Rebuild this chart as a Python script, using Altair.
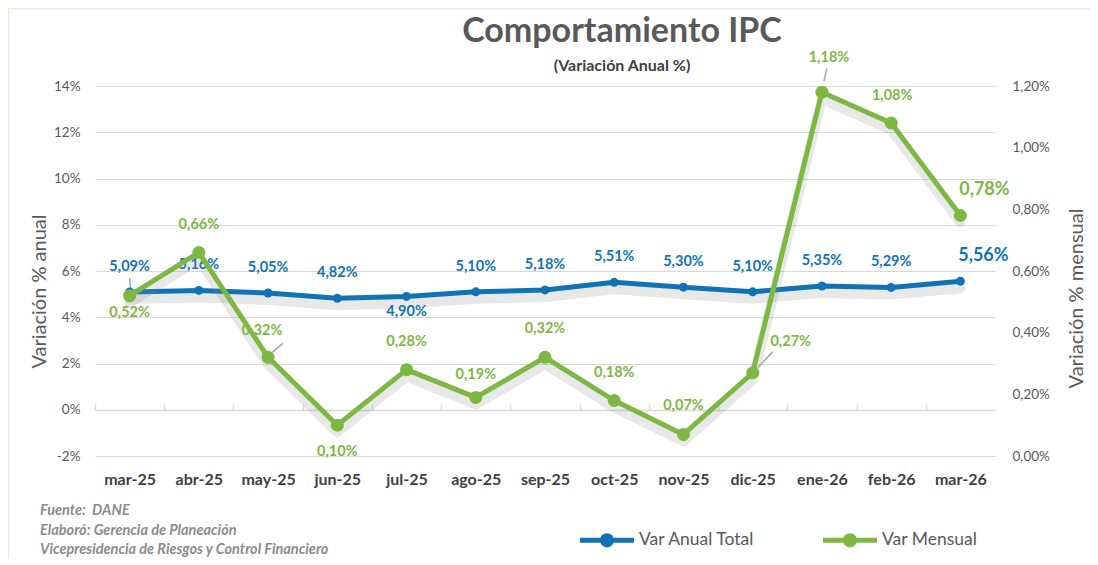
import altair as alt
import pandas as pd

months = ["mar-25", "abr-25", "may-25", "jun-25", "jul-25", "ago-25", "sep-25",
          "oct-25", "nov-25", "dic-25", "ene-26", "feb-26", "mar-26"]
anual = [5.09, 5.16, 5.05, 4.82, 4.90, 5.10, 5.18, 5.51, 5.30, 5.10, 5.35, 5.29, 5.56]
mensual = [0.52, 0.66, 0.32, 0.10, 0.28, 0.19, 0.32, 0.18, 0.07, 0.27, 1.18, 1.08, 0.78]
series_names = ["Var Anual Total", "Var Mensual"]
left_ticks = [-2, 0, 2, 4, 6, 8, 10, 12, 14]
right_ticks = [0.0, 0.2, 0.4, 0.6, 0.8, 1.0, 1.2]
title_text = "Comportamiento IPC"
subtitle_text = "(Variación Anual %)"
footer_text = ["Fuente:\u00a0 DANE", "Elaboró: Gerencia de Planeación",
               "Vicepresidencia de Riesgos y Control Financiero"]

BLUE = "#0F73B6"
GREEN = "#7DB843"
GRAY = "#595959"
FONT = "Lato"


def fmt(v):
    return f"{v:.2f}".replace(".", ",") + "%"


df_a = pd.DataFrame({"mes": months, "valor": anual, "serie": series_names[0],
                     "label": [fmt(v) for v in anual]})
df_m = pd.DataFrame({"mes": months, "valor": mensual, "serie": series_names[1],
                     "label": [fmt(v) for v in mensual]})

xscale = alt.Scale(domain=months, padding=0.5)
X = alt.X("mes:N", sort=months, scale=xscale,
          axis=alt.Axis(title=None, labelAngle=0, domain=False, ticks=False,
                        labelFontWeight="bold", labelFontSize=16, labelColor="#404040",
                        labelPadding=15, labelFont=FONT, grid=False))
X_top = alt.X("mes:N", sort=months, scale=xscale,
              axis=alt.Axis(title=None, orient="top", offset=-324, labels=False,
                            domain=True, domainColor="#D9D9D9", domainWidth=1.5,
                            ticks=True, tickColor="#D9D9D9", tickWidth=1.5, tickSize=6,
                            tickOffset=-34.6, grid=False))

ysc_a = alt.Scale(domain=[-2, 14], nice=False, zero=False)
ysc_m = alt.Scale(domain=[0, 1.2], nice=False, zero=False)

Y_a = alt.Y("valor:Q", scale=ysc_a,
            axis=alt.Axis(values=left_ticks, labelExpr="datum.value + '%'", grid=True,
                          gridColor="#D9D9D9", gridWidth=1.2, domain=False, ticks=False,
                          labelPadding=15, labelFontSize=13.5, labelColor=GRAY, labelFont=FONT,
                          title="Variación % anual", titleFontSize=20, titleFontWeight="normal",
                          titleColor=GRAY, titleFont=FONT, titlePadding=4, titleY=205))
Y_m = alt.Y("valor:Q", scale=ysc_m,
            axis=alt.Axis(orient="right", values=right_ticks,
                          labelExpr="replace(format(datum.value, '.2f'), '.', ',') + '%'",
                          grid=False, domain=False, ticks=False, labelPadding=17,
                          labelFontSize=13.5, labelColor=GRAY, labelFont=FONT,
                          title="Variación % mensual", titleFontSize=20,
                          titleFontWeight="normal", titleColor=GRAY, titleFont=FONT,
                          titleAngle=270, titlePadding=37, titleY=212))

color_scale = alt.Scale(domain=series_names, range=[BLUE, GREEN])
legend_path = ("M-1,-0.09L1,-0.09L1,0.09L-1,0.09Z"
               "M0.26,0A0.26,0.26,0,1,1,-0.26,0A0.26,0.26,0,1,1,0.26,0Z")
C = alt.Color("serie:N", scale=color_scale,
              legend=alt.Legend(title=None, orient="none", legendX=485, legendY=427,
                                direction="horizontal", symbolType=legend_path,
                                symbolSize=2916, symbolStrokeWidth=0, labelFontSize=17.5,
                                labelColor=GRAY, labelFont=FONT, columnPadding=68,
                                labelOffset=5, labelLimit=300))


def labels(df, Y, color, groups):
    out = []
    for mset, dx, dy, size in groups:
        out.append(
            alt.Chart(df).transform_filter(alt.FieldOneOfPredicate(field="mes", oneOf=mset))
            .mark_text(font=FONT, fontWeight="bold", fontSize=size, color=color,
                       dx=dx, dy=dy, baseline="middle", align="center")
            .encode(x=X, y=Y, text="label:N")
        )
    return out


def leaders(df, Y, groups):
    # short gray connector strokes between a data label and its point
    out = []
    for mset, cx, cy, length, ang in groups:
        out.append(
            alt.Chart(df).transform_filter(alt.FieldOneOfPredicate(field="mes", oneOf=mset))
            .mark_point(shape="stroke", color="#A6A6A6", strokeWidth=1.5, filled=False,
                        opacity=1, size=length * length, angle=ang,
                        xOffset=cx, yOffset=cy)
            .encode(x=X, y=Y)
        )
    return out


def shadow(df, Xc, Y):
    return alt.Chart(df).mark_line(color="#8A8A8A", opacity=0.2, strokeWidth=10,
                                   strokeCap="round", strokeJoin="round").encode(
        x=Xc, y=Y, yOffset=alt.value(7))


LS = 14.5
line_a = alt.Chart(df_a).mark_line(color=BLUE, strokeWidth=5, strokeCap="round",
                                   strokeJoin="round").encode(x=X, y=Y_a)
pts_a = alt.Chart(df_a).mark_point(filled=True, size=80, opacity=1).encode(
    x=X, y=Y_a, color=C)
lab_a = labels(df_a, Y_a, BLUE, [
    ([m for m in months if m not in ("jul-25", "mar-26")], 0, -25, LS),
    (["jul-25"], 0, 16, LS),
    (["mar-26"], 23, -25, 18),
])
lead_a = leaders(df_a, Y_a, [(["mar-25"], 0.5, -8.5, 11, 85)])

line_m = alt.Chart(df_m).mark_line(color=GREEN, strokeWidth=5, strokeCap="round",
                                   strokeJoin="round").encode(x=X_top, y=Y_m)
pts_m = alt.Chart(df_m).mark_point(filled=True, size=170, opacity=1).encode(
    x=X_top, y=Y_m, color=C)
lab_m = labels(df_m, Y_m, GREEN, [
    (["abr-25", "jul-25", "sep-25", "oct-25", "nov-25"], 0, -28, LS),
    (["may-25"], -6, -26, LS),
    (["ago-25"], 0, -22, LS),
    (["feb-26"], 1, -27, LS),
    (["ene-26"], 7, -34, LS),
    (["mar-25"], 0, 17, LS),
    (["jun-25"], 0, 27, LS),
    (["dic-25"], 38, -31, LS),
    (["mar-26"], 24, -26, 18),
])
lead_m = leaders(df_m, Y_m, [
    (["may-25"], 9.5, -9.5, 14, 140),
    (["dic-25"], 12.5, -13, 22, 133),
    (["ene-26"], 3.5, -17.5, 13, 103),
])

df_title = pd.DataFrame({"t": [title_text]})
df_sub = pd.DataFrame({"t": [subtitle_text]})
df_foot = pd.DataFrame({"t": ["\n".join(footer_text)]})
df_frame = pd.DataFrame({"t": [""]})

frame_mark = alt.Chart(df_frame).mark_rect(
    fill="white", fillOpacity=0, stroke="#ECE8DD", strokeWidth=1.5).encode(
    x=alt.value(-86.5), x2=alt.value(1100), y=alt.value(-77.5), y2=alt.value(600))
title_mark = alt.Chart(df_title).mark_text(
    font=FONT, fontSize=34, fontWeight="bold", color=GRAY, align="center",
    baseline="middle").encode(x=alt.value(527), y=alt.value(-54), text="t:N")
sub_mark = alt.Chart(df_sub).mark_text(
    font=FONT, fontSize=16, fontWeight="bold", color="#404040", align="center",
    baseline="middle").encode(x=alt.value(527), y=alt.value(-20), text="t:N")
foot_mark = alt.Chart(df_foot).mark_text(
    font=FONT, fontSize=14.5, fontWeight="bold", fontStyle="italic", color="#8C8C8C",
    align="left", baseline="middle", lineHeight=19.5, lineBreak="\n").encode(
    x=alt.value(-55), y=alt.value(425), text="t:N")

layer_a = alt.layer(frame_mark, shadow(df_a, X, Y_a), line_a, *lead_a, pts_a, *lab_a,
                    title_mark, sub_mark, foot_mark)
layer_m = alt.layer(shadow(df_m, X_top, Y_m), line_m, *lead_m, pts_m, *lab_m)

chart = alt.layer(layer_a, layer_m).resolve_scale(y="independent").resolve_axis(
    x="independent").properties(
    width=900, height=370,
    autosize=alt.AutoSizeParams(type="none"),
    padding={"left": 87, "top": 78, "right": 95, "bottom": 103},
    background="white",
).configure_view(stroke=None)

chart.save("out.html", embed_options={"renderer": "svg", "actions": False})
